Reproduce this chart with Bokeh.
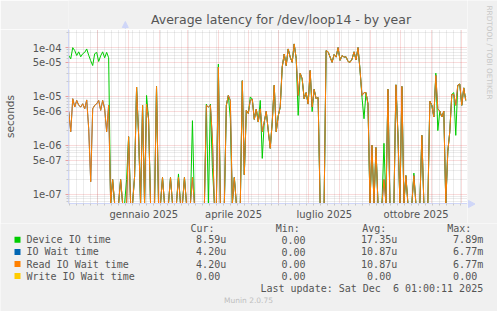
import math
import pandas as pd
from bokeh.plotting import figure
from bokeh.layouts import column, row
from bokeh.models import FixedTicker, Range1d
from bokeh.core.properties import value
from bokeh.embed import file_html
from bokeh.resources import INLINE

# ---------------- texts ----------------
TITLE = "Average latency for /dev/loop14 - by year"
Y_LABEL = "seconds"
WATERMARK = "RRDTOOL / TOBI OETIKER"
FOOTER = "Munin 2.0.75"
LAST_UPDATE = "Last update: Sat Dec \u00a06 01:00:11 2025"

# ---------------- time axis ----------------
X_START = "2024-11-02"
X_END = "2025-12-07"
FIRST_SAMPLE = "2024-11-02 06:00"
SAMPLE_STEP = "2D"

x_tick_dates = ["2025-01-16 12:00", "2025-04-16 12:00", "2025-07-16 12:00", "2025-10-16 12:00"]
x_tick_labels = ["gennaio 2025", "aprile 2025", "luglio 2025", "ottobre 2025"]

y_ticks = [1e-07, 5e-07, 1e-06, 5e-06, 1e-05, 5e-05, 1e-04]
y_tick_labels = ["1e-07", "5e-07", "1e-06", "5e-06", "1e-05", "5e-05", "1e-04"]
Y_MIN, Y_MAX = 6.45e-08, 2.35e-04

# ---------------- data (microseconds, one sample every 2 days) ----------------
device_io_us = [
    69, 59, 100, 87, 69, 82, 65, 75, 80, 94,
    70, 54, 43, 75, 80, 52, 68, 82, 62, 80,
    62, 0, 0.2, 0, 0, 0, 0.2, 0, 0, 0.2,
    1.5, 0, 0, 0.23, 15.6, 1.7, 0, 6.6, 0, 10.5,
    3.5, 0, 0, 0, 16, 0, 0, 0.22, 0, 0,
    0, 0.22, 0, 0, 0, 0.26, 0, 0, 0.22, 0,
    0, 0, 3.2, 0, 0, 0, 0, 0, 0, 7,
    0, 7, 0.35, 0, 0, 46, 0, 0, 0, 6.6,
    10.5, 3.5, 0, 0.22, 0, 0, 0, 21, 0.25, 5.2,
    4.5, 9.8, 8.8, 3.4, 5.5, 3, 8.3, 0.54, 3.0, 5,
    2, 0.87, 3.0, 17, 1.9, 4, 6.1, 40, 74, 43,
    94, 64, 50, 119, 60, 4.1, 30, 23, 9, 12,
    7, 34, 4.9, 14, 9, 9.5, 0, 0, 0, 87,
    82, 64, 50, 72, 64, 100, 55, 69, 64, 65,
    52, 50, 58, 82, 56, 100, 35, 9.5, 3.5, 12,
    7, 0, 1.0, 0, 0.9, 0, 0, 0, 1.1, 0,
    14, 0, 0, 0, 17.3, 1.7, 0, 16, 0, 0.24,
    0, 0, 0, 0.27, 0, 0, 0, 1.6, 0, 0,
    0, 8, 6.6, 3.8, 30, 2.0, 5, 3.8, 5, 0,
    0.75, 1.9, 11, 12, 1.6, 17, 18, 6.6, 15, 8.3,
]
read_wait_us = [
    4.9, 1.9, 9.0, 6.1, 8.3, 6.6, 6.1, 7.1, 5.6, 8.5,
    2.2, 0.18, 5.6, 6.6, 7.1, 8.3, 5.2, 8.3, 5.6, 1.9,
    6.6, 0, 0.2, 0, 0, 0, 0.2, 0, 0, 0,
    1.5, 0, 0, 0.23, 15.6, 1.7, 0, 6.6, 0, 7,
    3.5, 0, 0, 0, 16, 0, 0, 0.22, 0, 0,
    0, 0.22, 0, 0, 0, 0.22, 0, 0, 0.22, 0,
    0, 0, 0.22, 0, 0, 0, 0, 0, 0, 6.6,
    6.1, 6.6, 1.4, 0, 0, 40, 0, 0, 0, 6.6,
    10.5, 8.3, 0, 0.22, 0, 0, 0, 21, 0.25, 5.2,
    4.5, 8.3, 8.8, 3.4, 5.5, 3, 5.6, 1.9, 3.0, 5,
    2, 0.87, 3.0, 17, 1.9, 4, 6.1, 40, 74, 43,
    94, 64, 50, 119, 60, 10.5, 30, 23, 9, 12,
    7, 34, 6.1, 14, 9, 9.5, 0, 0, 0, 87,
    82, 64, 50, 72, 64, 100, 55, 69, 64, 65,
    52, 50, 58, 82, 56, 100, 35, 10.5, 12, 12,
    7, 0, 1.0, 0, 0.9, 0, 0, 0, 0.2, 0,
    14, 0, 0, 0, 17.3, 1.7, 0, 16, 0, 0.24,
    0, 0, 0, 0.24, 0, 0, 0, 1.6, 0, 0,
    0, 8, 6.6, 3.8, 27, 5.6, 5, 3.8, 5, 0,
    0.75, 1.9, 11, 11, 6.6, 17, 18, 6.6, 15, 8.3,
]
# IO wait equals read IO wait (identical legend statistics); writes are zero all year
io_wait_us = list(read_wait_us)
write_wait_us = [0.0] * len(read_wait_us)

series_names = ["Device IO time", "IO Wait time", "Read IO Wait time", "Write IO Wait time"]
series_colors = ["#00CC00", "#0066B3", "#FF8000", "#FFCC00"]
stat_headers = ["Cur:", "Min:", "Avg:", "Max:"]
cur_values = ["8.59u", "4.20u", "4.20u", "0.00"]
min_values = ["0.00", "0.00", "0.00", "0.00"]
avg_values = ["17.35u", "10.87u", "10.87u", "0.00"]
max_values = ["7.89m", "6.77m", "6.77m", "0.00"]

# ---------------- styling / layout (canvas pixel positions) ----------------
W, H = 497, 311
FL, FR, FT, FB = 67, 467, 29, 203          # plot frame edges
MAIN_BOTTOM = 223                          # main figure bottom (incl. x labels)
BACK = "#F0F0F0"
FONT_COL = "#555555"
AXIS_COL = "#CFD6F8"
MGRID = "#E04F4F"
GRID = "#8F8F8F"
SANS = "DejaVu Sans"
MONO = "DejaVu Sans Mono"


def ms(s):
    return pd.Timestamp(s).value / 1e6


def canvas_fig(x0, x1, y0, y1):
    """Helper figure whose data coordinates equal page pixel coordinates."""
    f = figure(width=int(x1 - x0), height=int(y1 - y0), title=None,
               x_range=Range1d(x0, x1), y_range=Range1d(y1, y0),
               x_axis_location=None, y_axis_location=None,
               output_backend="svg", toolbar_location=None,
               min_border_left=0, min_border_right=0, min_border_top=0, min_border_bottom=0)
    f.xgrid.visible = False
    f.ygrid.visible = False
    f.background_fill_color = BACK
    f.border_fill_color = BACK
    f.outline_line_color = None
    return f


def txt(f, x, y, text, size="10px", font=SANS, color=FONT_COL, align="left", angle=0.0):
    f.text(x=[x], y=[y], text=[text], text_font=value(font), text_font_size=size,
           text_color=color, text_align=align, text_baseline="middle", angle=angle)


# ================= main plot =================
p = figure(width=FR, height=MAIN_BOTTOM - FT, title=None,
           x_axis_type="datetime", y_axis_type="log",
           x_range=Range1d(ms(X_START), ms(X_END)), y_range=Range1d(Y_MIN, Y_MAX),
           output_backend="svg", toolbar_location=None,
           min_border_left=FL, min_border_right=0,
           min_border_top=0, min_border_bottom=MAIN_BOTTOM - FB)
p.border_fill_color = BACK
p.background_fill_color = "white"
p.outline_line_color = None

dates = pd.date_range(FIRST_SAMPLE, periods=len(device_io_us), freq=SAMPLE_STEP)


def to_seconds(vals):
    return [v * 1e-6 if v > 0 else Y_MIN for v in vals]


for vals, color in zip([device_io_us, io_wait_us, read_wait_us, write_wait_us], series_colors):
    p.line(dates, to_seconds(vals), line_color=color, line_width=1)

# y axis
y_minor = [m * 10.0 ** e for e in range(-8, -3) for m in (2, 3, 4, 6, 7, 8, 9)
           if Y_MIN <= m * 10.0 ** e <= Y_MAX]
yt = FixedTicker(ticks=y_ticks, minor_ticks=y_minor)
p.yaxis.ticker = yt
p.yaxis.major_label_overrides = {t: l for t, l in zip(y_ticks, y_tick_labels)}
p.yaxis.axis_label = Y_LABEL
p.yaxis.axis_label_text_font = SANS
p.yaxis.axis_label_text_font_size = "10.5px"
p.yaxis.axis_label_text_font_style = "normal"
p.yaxis.axis_label_text_color = FONT_COL
p.yaxis.axis_label_standoff = 14
p.yaxis.major_label_text_font = SANS
p.yaxis.major_label_text_font_size = "10px"
p.yaxis.major_label_text_color = FONT_COL
p.yaxis.major_label_standoff = 4
p.yaxis.axis_line_color = AXIS_COL
p.yaxis.major_tick_in = 0
p.yaxis.major_tick_out = 3
p.yaxis.minor_tick_in = 0
p.yaxis.minor_tick_out = 2
p.yaxis.major_tick_line_color = "#E8A0A0"
p.yaxis.minor_tick_line_color = "#C8C8C8"
p.ygrid.ticker = yt
p.ygrid.grid_line_color = MGRID
p.ygrid.grid_line_alpha = 0.4
p.ygrid.grid_line_dash = "1 1"
p.ygrid.minor_grid_line_color = GRID
p.ygrid.minor_grid_line_alpha = 0.35
p.ygrid.minor_grid_line_dash = "1 1"

# x axis
months = pd.date_range("2024-12-01", "2025-12-01", freq="MS")
sundays = pd.date_range("2024-11-03", X_END, freq="W-SUN")
month_ms = [ms(d) for d in months]
sunday_ms = [ms(d) for d in sundays]
x_label_ms = [ms(d) for d in x_tick_dates]
p.xaxis.ticker = FixedTicker(ticks=x_label_ms, minor_ticks=sunday_ms)
p.xaxis.major_label_overrides = {t: l for t, l in zip(x_label_ms, x_tick_labels)}
p.xaxis.major_label_text_font = SANS
p.xaxis.major_label_text_font_size = "10px"
p.xaxis.major_label_text_color = FONT_COL
p.xaxis.major_label_standoff = 3
p.xaxis.axis_line_color = AXIS_COL
p.xaxis.major_tick_line_color = None
p.xaxis.major_tick_in = 0
p.xaxis.major_tick_out = 2
p.xaxis.minor_tick_in = 0
p.xaxis.minor_tick_out = 2
p.xaxis.minor_tick_line_color = "#C8C8C8"
p.xgrid.ticker = FixedTicker(ticks=month_ms, minor_ticks=sunday_ms)
p.xgrid.grid_line_color = MGRID
p.xgrid.grid_line_alpha = 0.4
p.xgrid.grid_line_dash = "1 1"
p.xgrid.minor_grid_line_color = GRID
p.xgrid.minor_grid_line_alpha = 0.35
p.xgrid.minor_grid_line_dash = "1 1"

# ================= title strip (above plot) =================
top = canvas_fig(0, FR, 0, FT)
txt(top, 248.7, 18.5, TITLE, size="12.5px", align="center")
# y-axis continuation and arrow head
top.segment(x0=[66.5], y0=[24], x1=[66.5], y1=[FT], line_color=AXIS_COL, line_width=1)
top.patch(x=[63.0, 70.0, 66.5], y=[27.0, 27.0, 21.0], fill_color=AXIS_COL, line_color=AXIS_COL)

# ================= right strip (watermark, x-axis arrow) =================
side = canvas_fig(FR, W, 0, MAIN_BOTTOM)
txt(side, 488.5, 5, WATERMARK, size="7.3px", color="#C8C8C8", angle=-math.pi / 2)
side.segment(x0=[FR], y0=[203.5], x1=[470], y1=[203.5], line_color=AXIS_COL, line_width=1)
side.patch(x=[468.0, 468.0, 474.5], y=[200.0, 207.0, 203.5], fill_color=AXIS_COL, line_color=AXIS_COL)

# ================= legend table (below) =================
leg = canvas_fig(0, W, MAIN_BOTTOM, H)
CHAR_W = 6.0
header_x = [190, 275.3, 361.7, 446.7]
col_right = [225.7, 311.0, 396.7, 482.7]
HEADER_Y = 227.7
ROW_Y0, ROW_DY = 239.3, 12.1

for hx, h in zip(header_x, stat_headers):
    txt(leg, hx, HEADER_Y, h, font=MONO)

for i, (name, color) in enumerate(zip(series_names, series_colors)):
    y = ROW_Y0 + i * ROW_DY
    leg.rect(x=[17], y=[y], width=6, height=6, fill_color=color, line_color=None)
    txt(leg, 26, y, name, font=MONO)
    for col, vals in enumerate([cur_values, min_values, avg_values, max_values]):
        v = vals[i]
        right = col_right[col] - (0 if v[-1].isalpha() else CHAR_W)
        txt(leg, right, y, v, font=MONO, align="right")

txt(leg, 482.7, ROW_Y0 + 4 * ROW_DY, LAST_UPDATE, font=MONO, align="right")
txt(leg, 248, 300, FOOTER, size="7.5px", color="#BEBEBE", align="center")

layout = column(row(column(top, p), side), leg)
open("out.html", "w").write(file_html(layout, INLINE))
